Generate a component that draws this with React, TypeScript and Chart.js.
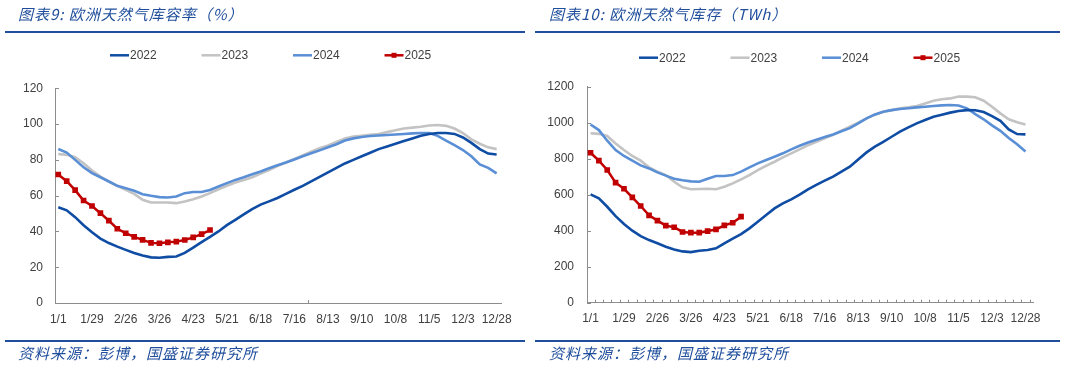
import React, { useEffect, useRef } from "react";
import { Chart, registerables } from "chart.js";

Chart.register(...registerables);

// ---------- data ----------
const WEEK_LABELS = [
  "1/1", "1/8", "1/15", "1/22", "1/29", "2/5", "2/12", "2/19", "2/26",
  "3/5", "3/12", "3/19", "3/26", "4/2", "4/9", "4/16", "4/23", "4/30",
  "5/7", "5/14", "5/21", "5/28", "6/4", "6/11", "6/18", "6/25", "7/2",
  "7/9", "7/16", "7/23", "7/30", "8/6", "8/13", "8/20", "8/27", "9/3",
  "9/10", "9/17", "9/24", "10/1", "10/8", "10/15", "10/22", "10/29", "11/5",
  "11/12", "11/19", "11/26", "12/3", "12/10", "12/17", "12/24", "12/28",
];
const LABEL_INDEX = [0, 4, 8, 12, 16, 20, 24, 28, 32, 36, 40, 44, 48, 52];
const SERIES_NAMES = ["2022", "2023", "2024", "2025"];

// storage fill rate, %
const rate2022 = [53.5, 51.8, 48, 43.5, 39.5, 36, 33.5, 31.5, 29.7, 28, 26.5, 25.5, 25.3, 25.8, 26, 28, 31, 34, 37, 40, 43.5, 46.5, 49.5, 52.5, 55, 56.8, 58.7, 61, 63.3, 65.5, 68, 70.5, 73, 75.5, 78, 80, 82, 84, 86, 87.5, 89, 90.5, 92, 93.5, 94.5, 95, 95, 94.5, 92.5, 89.5, 86, 83.5, 83];
const rate2023 = [83.3, 82.8, 81.5, 78.1, 74, 70.7, 67.9, 65.5, 63.2, 61, 57.7, 56.2, 56.2, 56.2, 55.8, 56.7, 58, 59.5, 61.4, 63.6, 65.5, 67.3, 68.8, 70.3, 72.3, 74.3, 76.5, 78.5, 80.5, 82.5, 84.5, 86.5, 88, 90, 92, 93, 93.5, 94, 94.5, 95.5, 96.5, 97.5, 98, 98.5, 99.2, 99.5, 99, 97.5, 95, 91.5, 89, 87, 86];
const rate2024 = [86.1, 84.1, 80, 75.9, 72.6, 70.3, 67.9, 65.5, 64.2, 62.7, 60.8, 59.9, 59.2, 59, 59.5, 61.4, 62, 62, 63.2, 65.1, 67, 68.8, 70.3, 72, 73.5, 75.3, 77, 78.5, 80.2, 82, 83.7, 85.3, 87, 88.7, 90.8, 92, 92.8, 93.3, 93.6, 93.9, 94.2, 94.5, 94.8, 95, 95, 93.4, 90.8, 88.2, 85.5, 82, 77.5, 75.5, 72.5];
const rate2025 = [71.8, 68.1, 63.1, 57.3, 54.2, 50.2, 46, 41.5, 39, 37, 35.3, 33.6, 33.4, 33.9, 34.3, 35.2, 36.7, 38.5, 40.8];

// storage, TWh
const stock2022 = [602, 580, 533, 481, 437, 400, 370, 348, 330, 311, 296, 285, 281, 289, 293, 302, 330, 356, 381, 413, 450, 487, 524, 552, 574, 600, 630, 655, 678, 700, 728, 756, 796, 835, 867, 894, 922, 950, 974, 996, 1015, 1033, 1044, 1056, 1065, 1070, 1069, 1059, 1037, 1010, 963, 937, 935];
const stock2023 = [941, 938, 926, 885, 848, 815, 789, 752, 728, 709, 672, 641, 630, 632, 633, 630, 644, 663, 685, 709, 737, 761, 783, 807, 830, 852, 875, 894, 913, 932, 956, 978, 1000, 1024, 1044, 1061, 1070, 1080, 1085, 1093, 1107, 1122, 1130, 1135, 1145, 1145, 1141, 1122, 1089, 1052, 1019, 1003, 990];
const stock2024 = [990, 959, 900, 848, 815, 789, 763, 746, 724, 706, 689, 680, 674, 672, 689, 704, 704, 709, 728, 752, 774, 793, 811, 830, 852, 872, 890, 905, 920, 935, 952, 970, 996, 1024, 1046, 1061, 1070, 1076, 1080, 1085, 1089, 1093, 1096, 1098, 1096, 1080, 1048, 1019, 985, 955, 915, 880, 840];
const stock2025 = [833, 789, 737, 667, 633, 585, 537, 485, 456, 428, 419, 393, 389, 389, 398, 407, 430, 444, 478];

// ---------- styles ----------
const COLORS = ["#0F4CA3", "#C3C3C3", "#5A8FD6", "#C00000"];
const AXIS_COLOR = "#8C8C8C";
const TEXT_COLOR = "#404040";
const TITLE_COLOR = "#1F4E9C";
const FONT = "'Liberation Sans', Arial, sans-serif";
const CJK = "'Noto Sans CJK SC', sans-serif";

const innerTicksPlugin = {
  id: "innerTicks",
  afterDraw(chart: any, _args: any, opts: any) {
    const { ctx, chartArea, scales } = chart;
    const xs = scales.x;
    const ys = scales.y;
    ctx.save();
    ctx.strokeStyle = AXIS_COLOR;
    ctx.lineWidth = 1;
    ys.ticks.forEach((t: any) => {
      const py = Math.round(ys.getPixelForValue(t.value)) + 0.5;
      ctx.beginPath();
      ctx.moveTo(chartArea.left, py);
      ctx.lineTo(chartArea.left + 4, py);
      ctx.stroke();
    });
    (opts.xTicks || []).forEach((v: number) => {
      const px = Math.round(xs.getPixelForValue(v)) + 0.5;
      ctx.beginPath();
      ctx.moveTo(px, chartArea.bottom);
      ctx.lineTo(px, chartArea.bottom - 3);
      ctx.stroke();
    });
    ctx.restore();
  },
};

const legendPlugin = {
  id: "customLegend",
  afterDraw(chart: any, _args: any, opts: any) {
    const { ctx } = chart;
    const ds = chart.data.datasets;
    ctx.save();
    SERIES_NAMES.forEach((name, k) => {
      const d = ds.find((s: any) => s.label === name);
      const x = opts.startX + k * opts.step;
      const y = opts.y;
      ctx.strokeStyle = d.borderColor;
      ctx.lineWidth = 2.5;
      ctx.beginPath();
      ctx.moveTo(x, y);
      ctx.lineTo(x + 19, y);
      ctx.stroke();
      if (d.pointRadius > 0) {
        ctx.fillStyle = d.borderColor;
        ctx.fillRect(x + 9.5 - 2.5, y - 2.5, 5, 5);
      }
      ctx.fillStyle = TEXT_COLOR;
      ctx.font = `12px ${FONT}`;
      ctx.textBaseline = "middle";
      ctx.textAlign = "left";
      ctx.fillText(name, x + 20, y + 0.5);
    });
    ctx.restore();
  },
};

type PanelProps = {
  left: number;
  width: number;
  title: string;
  series: number[][];
  yMax: number;
  yStep: number;
  yWidth: number;
  yPad: number;
  padTop: number;
  padRight: number;
  xMin: number;
  xMax: number;
  xHeight: number;
  xTicks: number[];
  legendY: number;
  legendX: number;
  titleX: number;
};

function Panel(p: PanelProps) {
  const ref = useRef<HTMLCanvasElement | null>(null);
  useEffect(() => {
    if (!ref.current) return;
    const datasets = SERIES_NAMES.map((name, k) => {
      const isLast = k === 3;
      return {
        label: name,
        data: p.series[k].map((v, i) => ({ x: i, y: v })),
        borderColor: COLORS[k],
        backgroundColor: COLORS[k],
        borderWidth: isLast ? 2.5 : 2.6,
        pointRadius: isLast ? 4 : 0,
        pointStyle: "rect",
        pointBorderWidth: 0,
        tension: 0,
        order: isLast ? 0 : k === 0 ? 1 : k === 2 ? 2 : 3,
      };
    });
    const chart = new Chart(ref.current, {
      type: "line",
      data: { datasets } as any,
      plugins: [innerTicksPlugin, legendPlugin] as any,
      options: {
        animation: false,
        responsive: false,
        events: [],
        layout: { padding: { left: 0, top: p.padTop, right: p.padRight, bottom: 0 } },
        plugins: {
          legend: { display: false },
          tooltip: { enabled: false },
          innerTicks: { xTicks: p.xTicks },
          customLegend: { startX: p.legendX, step: 91.5, y: p.legendY },
        } as any,
        scales: {
          x: {
            type: "linear",
            min: p.xMin,
            max: p.xMax,
            afterBuildTicks: (s: any) => {
              s.ticks = LABEL_INDEX.map((v) => ({ value: v }));
            },
            afterFit: (s: any) => {
              s.height = p.xHeight;
            },
            grid: { display: false, drawTicks: false },
            border: { display: true, color: AXIS_COLOR, width: 1 },
            ticks: {
              autoSkip: false,
              maxRotation: 0,
              padding: 9,
              color: TEXT_COLOR,
              font: { family: FONT, size: 12 },
              callback: (v: any) => WEEK_LABELS[v as number],
            },
          },
          y: {
            min: 0,
            max: p.yMax,
            afterFit: (s: any) => {
              s.width = p.yWidth;
            },
            grid: { display: false, drawTicks: false },
            border: { display: true, color: AXIS_COLOR, width: 1 },
            ticks: {
              stepSize: p.yStep,
              padding: p.yPad,
              color: TEXT_COLOR,
              font: { family: FONT, size: 12 },
              callback: (v: any) => String(v),
            },
          },
        },
      } as any,
    });
    return () => chart.destroy();
  }, []);

  const textStyle = {
    position: "absolute" as const,
    left: p.titleX,
    fontFamily: CJK,
    fontStyle: "italic",
    fontSize: 15,
    letterSpacing: 1,
    color: TITLE_COLOR,
    whiteSpace: "nowrap" as const,
    lineHeight: "20px",
  };

  return (
    <div style={{ position: "absolute", left: p.left, top: 0, width: p.width, height: 366 }}>
      <canvas ref={ref} width={p.width} height={366} style={{ position: "absolute", left: 0, top: 0 }} />
      <div style={{ ...textStyle, top: 4 }}>{p.title}</div>
      <div style={{ position: "absolute", left: 5, width: p.width - 10, top: 31, height: 2, background: TITLE_COLOR }} />
      <div style={{ position: "absolute", left: 5, width: p.width - 10, top: 340, height: 2, background: TITLE_COLOR }} />
      <div style={{ ...textStyle, top: 343 }}>资料来源：彭博，国盛证券研究所</div>
    </div>
  );
}

export default function App() {
  const leftTicks = [29.6];
  const rightTicks = WEEK_LABELS.map((_, i) => i + 0.5);
  return (
    <div style={{ position: "fixed", left: 0, top: 0, width: 1065, height: 366, background: "#fff", overflow: "hidden" }}>
      <Panel
        left={0}
        width={530}
        title="图表9: 欧洲天然气库容率（%）"
        series={[rate2022, rate2023, rate2024, rate2025]}
        yMax={120}
        yStep={20}
        yWidth={55}
        yPad={12}
        padTop={88.3}
        padRight={28.3}
        xMin={-0.39}
        xMax={52.6}
        xHeight={63}
        xTicks={leftTicks}
        legendY={55.3}
        legendX={110}
        titleX={18}
      />
      <Panel
        left={530}
        width={535}
        title="图表10: 欧洲天然气库存（TWh）"
        series={[stock2022, stock2023, stock2024, stock2025]}
        yMax={1200}
        yStep={200}
        yWidth={57}
        yPad={13}
        padTop={86.7}
        padRight={32}
        xMin={-0.42}
        xMax={52.9}
        xHeight={63.3}
        xTicks={rightTicks}
        legendY={57.7}
        legendX={109}
        titleX={19}
      />
    </div>
  );
}
